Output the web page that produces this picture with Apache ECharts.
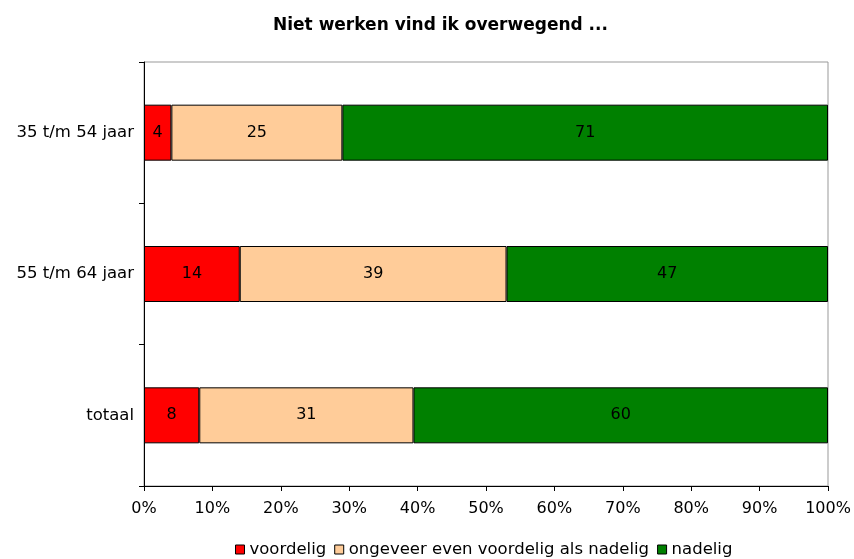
<!DOCTYPE html>
<html>
<head>
<meta charset="utf-8">
<script src="https://cdn.jsdelivr.net/npm/echarts@6/dist/echarts.min.js"></script>
<style>
  html, body { margin: 0; padding: 0; background: #fff; }
  #chart { width: 854px; height: 559px; }
</style>
</head>
<body>
<div id="chart"></div>
<script>
// categories, top to bottom
const groups = ['35 t/m 54 jaar', '55 t/m 64 jaar', 'totaal'];
const voordelig = [4, 14, 8];
const ongeveer = [25, 39, 31];
const nadelig = [71, 47, 60];
const xTicks = ['0%', '10%', '20%', '30%', '40%', '50%', '60%', '70%', '80%', '90%', '100%'];

const chart = echarts.init(document.getElementById('chart'));

// 100% stacked: each row is shown as share of its total
const rowSum = groups.map((g, i) => voordelig[i] + ongeveer[i] + nadelig[i]);
const share = arr => arr.map((v, i) => ({ value: v / rowSum[i] * 100, raw: v }));

const font = 'DejaVu Sans, Verdana, sans-serif';

function makeSeries(name, arr, color) {
    return {
        name: name,
        type: 'bar',
        stack: 'total',
        barWidth: 56,
        data: share(arr),
        itemStyle: { color: color, borderColor: '#000', borderWidth: 1 },
        label: {
            show: true,
            position: 'inside',
            color: '#000',
            fontFamily: font,
            fontSize: 16,
            formatter: p => p.data.raw
        }
    };
}

chart.setOption({
    animation: false,
    title: {
        text: 'Niet werken vind ik overwegend ...',
        left: 268,
        top: 12,
        textStyle: { fontFamily: font, fontSize: 17, fontWeight: 'bold', color: '#000' }
    },
    legend: {
        top: 541,
        left: 235,
        padding: 0,
        itemWidth: 9,
        itemHeight: 9,
        itemGap: 8,
        icon: 'rect',
        textStyle: { fontFamily: font, fontSize: 16.5, color: '#000' },
        itemStyle: { borderColor: '#000', borderWidth: 1 },
        data: ['voordelig', 'ongeveer even voordelig als nadelig', 'nadelig']
    },
    grid: {
        left: 144, right: 26, top: 62, bottom: 73,
        show: true, borderColor: '#999', borderWidth: 1
    },
    xAxis: {
        type: 'value',
        min: 0,
        max: 100,
        interval: 10,
        axisLine: { show: true, lineStyle: { color: '#000' } },
        axisTick: { show: true, length: 5, lineStyle: { color: '#000' } },
        splitLine: { show: false },
        axisLabel: {
            color: '#000', fontFamily: font, fontSize: 16, margin: 15,
            formatter: v => xTicks[Math.round(v / 10)]
        }
    },
    yAxis: {
        type: 'category',
        inverse: true,
        data: groups,
        axisLine: { show: true, lineStyle: { color: '#000' } },
        axisTick: { show: true, length: 5, lineStyle: { color: '#000' } },
        axisLabel: { color: '#000', fontFamily: font, fontSize: 16.5, margin: 10 }
    },
    series: [
        makeSeries('voordelig', voordelig, '#ff0000'),
        makeSeries('ongeveer even voordelig als nadelig', ongeveer, '#ffcc99'),
        makeSeries('nadelig', nadelig, '#008000')
    ]
});
</script>
</body>
</html>
